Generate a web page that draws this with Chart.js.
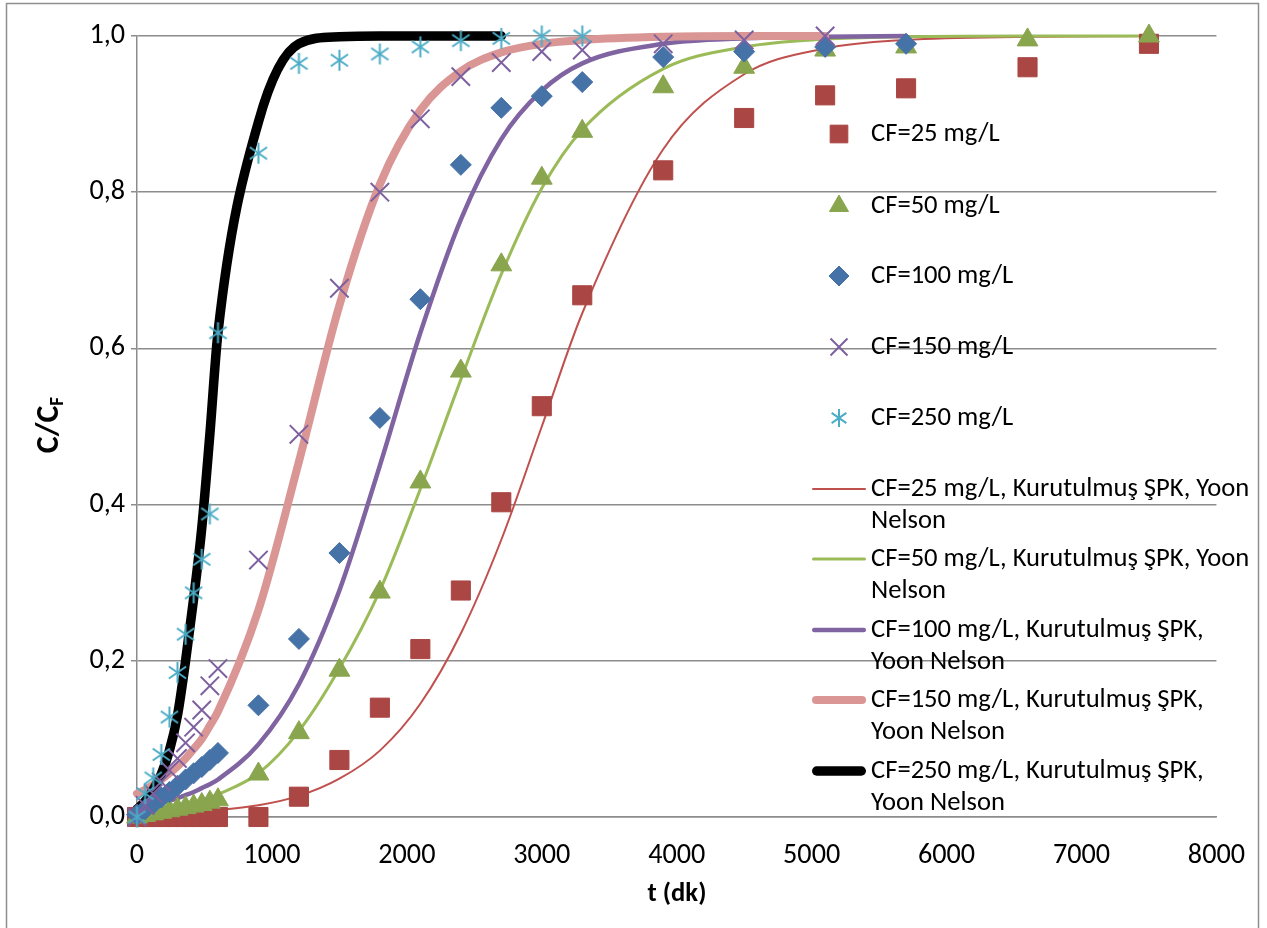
<!DOCTYPE html>
<html>
<head>
<meta charset="utf-8">
<script src="https://cdn.jsdelivr.net/npm/chart.js@4.4.1/dist/chart.umd.min.js"></script>
<style>
  html, body { margin: 0; padding: 0; background: #ffffff; }
  #wrap { width: 1267px; height: 928px; position: relative; }
</style>
</head>
<body>
<div id="wrap"><canvas id="c" width="1267" height="928"></canvas></div>
<script>
// Breakthrough curves: measured C/CF vs time and Yoon-Nelson fits
const FONT = 'Carlito, Lato, "Noto Sans", sans-serif';

// time grids (minutes)
const tCF25  = [0,60,120,180,240,300,360,420,480,540,600,900,1200,1500,1800,2100,2400,2700,3000,3300,3900,4500,5100,5700,6600,7500];
const tCF50  = [0,60,120,180,240,300,360,420,480,540,600,900,1200,1500,1800,2100,2400,2700,3000,3300,3900,4500,5100,5700,6600,7500];
const tCF100 = [0,60,120,180,240,300,360,420,480,540,600,900,1200,1500,1800,2100,2400,2700,3000,3300,3900,4500,5100,5700];
const tCF150 = [0,60,120,180,240,300,360,420,480,540,600,900,1200,1500,1800,2100,2400,2700,3000,3300,3900,4500,5100];
const tCF250 = [0,60,120,180,240,300,360,420,480,540,600,900,1200,1500,1800,2100,2400,2700,3000,3300];
const tFit250 = [0,60,120,180,240,300,360,420,480,540,600,900,1200,1500,1800,2100,2400,2700];

// measured C/CF
const obsCF25  = [0,0,0,0,0,0,0,0,0,0,0,0.0,0.026,0.073,0.14,0.215,0.29,0.403,0.526,0.668,0.828,0.895,0.924,0.933,0.96,0.99];
const obsCF50  = [0,0.002,0.004,0.006,0.008,0.01,0.012,0.014,0.016,0.019,0.022,0.055,0.108,0.188,0.288,0.429,0.571,0.707,0.818,0.878,0.935,0.96,0.982,0.986,0.995,1.0];
const obsCF100 = [0.003,0.01,0.017,0.025,0.032,0.04,0.048,0.056,0.064,0.073,0.082,0.143,0.228,0.338,0.511,0.663,0.835,0.908,0.923,0.941,0.973,0.98,0.986,0.99];
const obsCF150 = [0,0.015,0.03,0.045,0.06,0.075,0.095,0.115,0.137,0.168,0.19,0.329,0.49,0.677,0.8,0.894,0.948,0.966,0.98,0.982,0.99,0.995,1.0];
const obsCF250 = [0,0.03,0.05,0.08,0.128,0.185,0.234,0.287,0.33,0.388,0.62,0.85,0.965,0.969,0.977,0.986,0.994,0.997,1.0,1.0];

// Yoon-Nelson model curves
const fitCF25  = [0.003,0.003,0.004,0.004,0.005,0.005,0.006,0.007,0.007,0.008,0.009,0.015,0.027,0.049,0.085,0.145,0.235,0.355,0.5,0.645,0.855,0.951,0.984,0.995,0.999,1.0];
const fitCF50  = [0.006,0.007,0.008,0.009,0.011,0.013,0.015,0.018,0.021,0.025,0.029,0.056,0.11,0.19,0.29,0.42,0.56,0.695,0.805,0.88,0.958,0.986,0.996,0.999,1.0,1.0];
const fitCF100 = [0.012,0.014,0.016,0.018,0.021,0.024,0.028,0.032,0.037,0.042,0.048,0.093,0.17,0.29,0.45,0.62,0.765,0.868,0.93,0.965,0.99,0.997,0.999,1.0];
const fitCF150 = [0.03,0.035,0.041,0.048,0.056,0.065,0.075,0.087,0.1,0.117,0.135,0.265,0.455,0.655,0.81,0.905,0.955,0.979,0.99,0.995,0.999,1.0,1.0];
const fitCF250 = [0.01,0.02,0.035,0.055,0.085,0.13,0.2,0.28,0.37,0.49,0.62,0.89,0.99,0.999,1.0,1.0,1.0,1.0];

const xTicks = [0,1000,2000,3000,4000,5000,6000,7000,8000];
const yTicks = [0,0.2,0.4,0.6,0.8,1.0];

const obsLabels = ['CF=25 mg/L','CF=50 mg/L','CF=100 mg/L','CF=150 mg/L','CF=250 mg/L'];
const fitLabels = [
  ['CF=25 mg/L, Kurutulmuş ŞPK, Yoon','Nelson'],
  ['CF=50 mg/L, Kurutulmuş ŞPK, Yoon','Nelson'],
  ['CF=100 mg/L, Kurutulmuş ŞPK,','Yoon Nelson'],
  ['CF=150 mg/L, Kurutulmuş ŞPK,','Yoon Nelson'],
  ['CF=250 mg/L, Kurutulmuş ŞPK,','Yoon Nelson']
];

const zip = (ts, vs) => ts.map((t, i) => ({ x: t, y: vs[i] }));

// font size chosen so the longest legend line spans ~378px
const probe = document.createElement('canvas').getContext('2d');
probe.font = '100px ' + FONT;
const FS = Math.round(100 * 378 / probe.measureText(fitLabels[0][0]).width * 10) / 10;
const TICK_FS = Math.round(FS * 1.06 * 10) / 10;

// six-ray asterisk marker
function asteriskMarker(color, r) {
  const s = Math.ceil(r * 2 + 4);
  const c = document.createElement('canvas');
  c.width = s; c.height = s;
  const g = c.getContext('2d');
  g.strokeStyle = color; g.lineWidth = 2; g.lineCap = 'butt';
  const cx = s / 2, cy = s / 2;
  [90, 35, 145].forEach(a => {
    const rad = a * Math.PI / 180;
    g.beginPath();
    g.moveTo(cx - r * Math.cos(rad), cy - r * Math.sin(rad));
    g.lineTo(cx + r * Math.cos(rad), cy + r * Math.sin(rad));
    g.stroke();
  });
  return c;
}

const markerDefs = [
  { style: 'rect',     radius: 13.5, fill: '#AA4643', stroke: '#AA4643', bw: 1 },
  { style: 'triangle', radius: 12,   fill: '#89A54E', stroke: '#89A54E', bw: 1 },
  { style: 'rectRot',  radius: 10.5, fill: '#4572A7', stroke: '#4572A7', bw: 1 },
  { style: 'crossRot', radius: 13,   fill: 'rgba(0,0,0,0)', stroke: '#7D60A0', bw: 2 },
  { style: asteriskMarker('#4BACC6', 10.5), radius: 12, fill: 'rgba(0,0,0,0)', stroke: '#4BACC6', bw: 2 }
];
const legendMarkers = [
  { style: 'rect',     radius: 12.5 },
  { style: 'triangle', radius: 11 },
  { style: 'rectRot',  radius: 10 },
  { style: 'crossRot', radius: 12 },
  { style: asteriskMarker('#4BACC6', 9), radius: 10 }
];
const lineDefs = [
  { color: '#C0504D', width: 2 },
  { color: '#9BBB59', width: 3 },
  { color: '#8064A2', width: 4.5 },
  { color: '#DA9694', width: 8 },
  { color: '#000000', width: 9.5 }
];

const obsSeries = [[tCF25, obsCF25], [tCF50, obsCF50], [tCF100, obsCF100], [tCF150, obsCF150], [tCF250, obsCF250]];
const fitSeries = [[tCF25, fitCF25], [tCF50, fitCF50], [tCF100, fitCF100], [tCF150, fitCF150], [tFit250, fitCF250]];

const datasets = [];
obsSeries.forEach((s, i) => {
  const m = markerDefs[i];
  datasets.push({
    type: 'scatter',
    label: obsLabels[i],
    data: zip(s[0], s[1]),
    showLine: false,
    pointStyle: m.style,
    pointRadius: m.radius,
    pointHoverRadius: m.radius,
    pointBackgroundColor: m.fill,
    pointBorderColor: m.stroke,
    pointBorderWidth: m.bw,
    order: 5 - i,
    clip: false
  });
});
fitSeries.forEach((s, i) => {
  const l = lineDefs[i];
  datasets.push({
    type: 'line',
    label: fitLabels[i].join(' '),
    data: zip(s[0], s[1]),
    borderColor: l.color,
    borderWidth: l.width,
    pointRadius: 0,
    fill: false,
    cubicInterpolationMode: 'monotone',
    borderCapStyle: 'round',
    borderJoinStyle: 'round',
    order: 20 - i,
    clip: false
  });
});

const PLOT = { left: 137, top: 36, right: 1217, bottom: 817 };
const GRID = '#8C8C8C';

const framePlugin = {
  id: 'frame',
  beforeDraw(chart) {
    const ctx = chart.ctx;
    ctx.save();
    ctx.fillStyle = '#ffffff';
    ctx.fillRect(0, 0, chart.width, chart.height);
    ctx.strokeStyle = '#8E8E8E';
    ctx.lineWidth = 1.5;
    ctx.strokeRect(6.5, 3.5, 1252, 960);
    ctx.restore();
  }
};

const titlesPlugin = {
  id: 'axisTitles',
  afterDraw(chart) {
    const ctx = chart.ctx;
    ctx.save();
    ctx.fillStyle = '#000';
    ctx.textBaseline = 'middle';
    ctx.textAlign = 'center';
    ctx.font = 'bold ' + FS + 'px ' + FONT;
    ctx.fillText('t (dk)', 677, 894);

    // C/CF with subscript F, rotated
    ctx.translate(50, 425);
    ctx.rotate(-Math.PI / 2);
    const big = 'bold ' + (FS * 1.2) + 'px ' + FONT;
    const small = 'bold ' + (FS * 0.72) + 'px ' + FONT;
    ctx.font = big;
    const w1 = ctx.measureText('C/C').width;
    ctx.font = small;
    const w2 = ctx.measureText('F').width;
    const x0 = -(w1 + w2) / 2;
    ctx.textAlign = 'left';
    ctx.font = big;
    ctx.fillText('C/C', x0, 0);
    ctx.font = small;
    ctx.fillText('F', x0 + w1, FS * 0.32);
    ctx.restore();
  }
};

const legendPlugin = {
  id: 'sideLegend',
  afterDraw(chart) {
    const ctx = chart.ctx;
    const ds = chart.data.datasets;
    ctx.save();
    ctx.font = FS + 'px ' + FONT;
    ctx.textBaseline = 'middle';
    ctx.textAlign = 'left';
    const markerRows = [134, 206, 276, 347, 418];
    markerRows.forEach((y, i) => {
      const d = ds[i];
      const lm = legendMarkers[i];
      ctx.save();
      ctx.fillStyle = d.pointBackgroundColor;
      ctx.strokeStyle = d.pointBorderColor;
      ctx.lineWidth = d.pointBorderWidth;
      Chart.helpers.drawPoint(ctx, {
        pointStyle: lm.style,
        radius: lm.radius,
        borderWidth: d.pointBorderWidth,
        rotation: 0
      }, 839, y);
      ctx.restore();
      ctx.fillStyle = '#000';
      ctx.fillText(obsLabels[i], 871, y);
    });
    const lineRows = [489, 559, 630, 700, 771];
    lineRows.forEach((y, i) => {
      const d = ds[5 + i];
      ctx.save();
      ctx.strokeStyle = d.borderColor;
      ctx.lineWidth = d.borderWidth;
      ctx.lineCap = 'round';
      ctx.beginPath();
      ctx.moveTo(812 + d.borderWidth / 2, y);
      ctx.lineTo(866 - d.borderWidth / 2, y);
      ctx.stroke();
      ctx.restore();
      ctx.fillStyle = '#000';
      ctx.fillText(fitLabels[i][0], 871, y);
      ctx.fillText(fitLabels[i][1], 871, y + 32);
    });
    ctx.restore();
  }
};

new Chart(document.getElementById('c'), {
  data: { datasets },
  options: {
    responsive: false,
    animation: false,
    events: [],
    layout: { padding: { left: 0, top: PLOT.top, right: 1267 - PLOT.right, bottom: 0 } },
    plugins: {
      legend: { display: false },
      tooltip: { enabled: false }
    },
    scales: {
      x: {
        type: 'linear',
        min: xTicks[0],
        max: xTicks[xTicks.length - 1],
        afterBuildTicks: (scale) => { scale.ticks = xTicks.map(v => ({ value: v })); },
        afterFit: (scale) => { scale.height = 928 - PLOT.bottom; },
        ticks: {
          color: '#000',
          font: { family: FONT, size: TICK_FS },
          padding: 22,
          maxRotation: 0,
          callback: (v) => String(v)
        },
        grid: { display: false, drawTicks: false },
        border: { display: true, color: GRID, width: 1.5 }
      },
      y: {
        type: 'linear',
        min: 0,
        max: 1,
        afterBuildTicks: (scale) => { scale.ticks = yTicks.map(v => ({ value: v })); },
        afterFit: (scale) => { scale.width = PLOT.left; },
        ticks: {
          color: '#000',
          font: { family: FONT, size: TICK_FS },
          padding: 6,
          callback: (v) => v.toFixed(1).replace('.', ',')
        },
        grid: { color: GRID, lineWidth: 1.5, tickLength: 6, drawTicks: true },
        border: { display: true, color: GRID, width: 1.5 }
      }
    }
  },
  plugins: [framePlugin, titlesPlugin, legendPlugin]
});
</script>
</body>
</html>
